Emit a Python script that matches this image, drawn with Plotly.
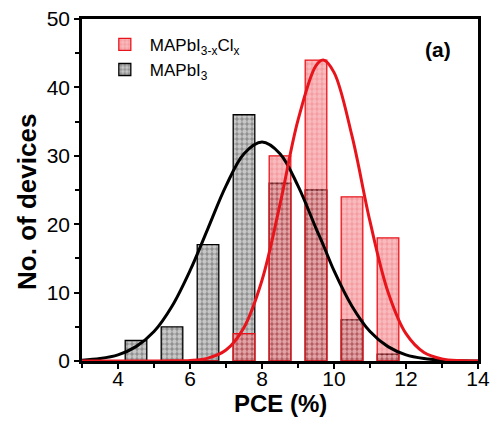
import plotly.graph_objects as go

# Histogram bins (PCE %, bin centers) and counts
bin_centers = [4.5, 5.5, 6.5, 7.5, 8.5, 9.5, 10.5, 11.5]
count_mapbi3 = [3, 5, 17, 36, 26, 25, 6, 1]
count_mapbi3xclx = [0, 0, 0, 4, 30, 44, 24, 18]

# Fitted distribution curves
curve_x = [3, 3.5, 4, 4.5, 5, 5.5, 6, 6.5, 7, 7.5, 8, 8.5, 9, 9.5, 9.7, 10,
           10.5, 11, 11.5, 12, 12.5, 13, 13.5, 14]
curve_mapbi3 = [0.12, 0.36, 0.9, 2.1, 4.3, 8.0, 13.2, 19.4, 25.6, 30.3, 32.0, 30.3,
                25.6, 19.4, 17.0, 13.2, 8.0, 4.3, 2.1, 0.9, 0.36, 0.12, 0.04, 0.01]
curve_mapbi3xclx = [0.0, 0.0, 0.0, 0.0, 0.01, 0.03, 0.09, 0.42, 1.6, 4.9, 11.8, 22.9,
                    35.2, 43.2, 44.0, 42.2, 32.9, 20.4, 10.1, 4.0, 1.25, 0.31, 0.06, 0.01]

x_ticks = [4, 6, 8, 10, 12, 14]
y_ticks = [0, 10, 20, 30, 40, 50]

FONT = "Liberation Sans, Arial, sans-serif"
RED = "#e8141c"

fig = go.Figure()

fig.add_trace(go.Bar(
    x=bin_centers, y=count_mapbi3, width=0.6,
    name="MAPbI<sub>3</sub>", legendrank=2,
    marker=dict(color="black", line=dict(color="black", width=1.3),
                pattern=dict(shape=".", size=5, solidity=0.6,
                             fgcolor="white", bgcolor="#8e8e8e")),
))
fig.add_trace(go.Bar(
    x=bin_centers, y=count_mapbi3xclx, width=0.6,
    name="MAPbI<sub>3-x</sub>Cl<sub>x</sub>", legendrank=1,
    marker=dict(color=RED, line=dict(color=RED, width=1.3),
                pattern=dict(shape=".", size=5, solidity=0.6,
                             fgcolor="rgba(255,255,255,0.6)", bgcolor="rgba(232,20,28,0.42)")),
))
fig.add_trace(go.Scatter(
    x=curve_x, y=curve_mapbi3, mode="lines", line=dict(color="black", width=3, shape="spline"),
    showlegend=False, hoverinfo="skip",
))
fig.add_trace(go.Scatter(
    x=curve_x, y=curve_mapbi3xclx, mode="lines", line=dict(color=RED, width=3, shape="spline"),
    showlegend=False, hoverinfo="skip",
))

fig.add_annotation(x=0.899, y=0.912, xref="paper", yref="paper", text="<b>(a)</b>",
                   xanchor="center", yanchor="middle",
                   showarrow=False, font=dict(family=FONT, size=21, color="black"))
# axis titles
fig.add_annotation(x=0.5, y=-0.124, xref="paper", yref="paper", text="<b>PCE (%)</b>",
                   xanchor="center", yanchor="middle",
                   showarrow=False, font=dict(family=FONT, size=24, color="black"))
fig.add_annotation(x=-0.139, y=0.465, xref="paper", yref="paper", text="<b>No. of devices</b>",
                   xanchor="center", yanchor="middle", textangle=-90,
                   showarrow=False, font=dict(family=FONT, size=26, color="black"))

# page body has an 8px margin: figure is sized/offset to compensate
fig.update_layout(
    width=483, height=409,
    margin=dict(l=74, r=13, t=11, b=56),
    paper_bgcolor="white", plot_bgcolor="white",
    barmode="overlay",
    font=dict(family=FONT, color="black"),
    showlegend=True,
    legend=dict(x=0.045, y=0.977, xanchor="left", yanchor="top",
                font=dict(family=FONT, size=17, color="black"),
                bgcolor="rgba(0,0,0,0)", tracegroupgap=0, itemwidth=40),
    xaxis=dict(range=[3, 14], tickvals=x_ticks, ticktext=[str(v) for v in x_ticks],
               automargin=False, ticklabeloverflow="allow", ticklabelstandoff=-8,
               ticks="outside", ticklen=5, tickwidth=2, tickcolor="black",
               minor=dict(dtick=1, tick0=3, ticks="outside", ticklen=4, tickwidth=2, tickcolor="black"),
               showline=True, linewidth=2.5, linecolor="black", mirror=True,
               showgrid=False, zeroline=False,
               tickfont=dict(family=FONT, size=21, color="black")),
    yaxis=dict(range=[0, 50], tickvals=y_ticks, ticktext=[str(v) for v in y_ticks],
               automargin=False, ticklabeloverflow="allow",
               ticks="outside", ticklen=5, tickwidth=2, tickcolor="black",
               minor=dict(dtick=5, tick0=0, ticks="outside", ticklen=4, tickwidth=2, tickcolor="black"),
               showline=True, linewidth=2.5, linecolor="black", mirror=True,
               showgrid=False, zeroline=False,
               tickfont=dict(family=FONT, size=21, color="black")),
)

fig.write_html("out.html")
